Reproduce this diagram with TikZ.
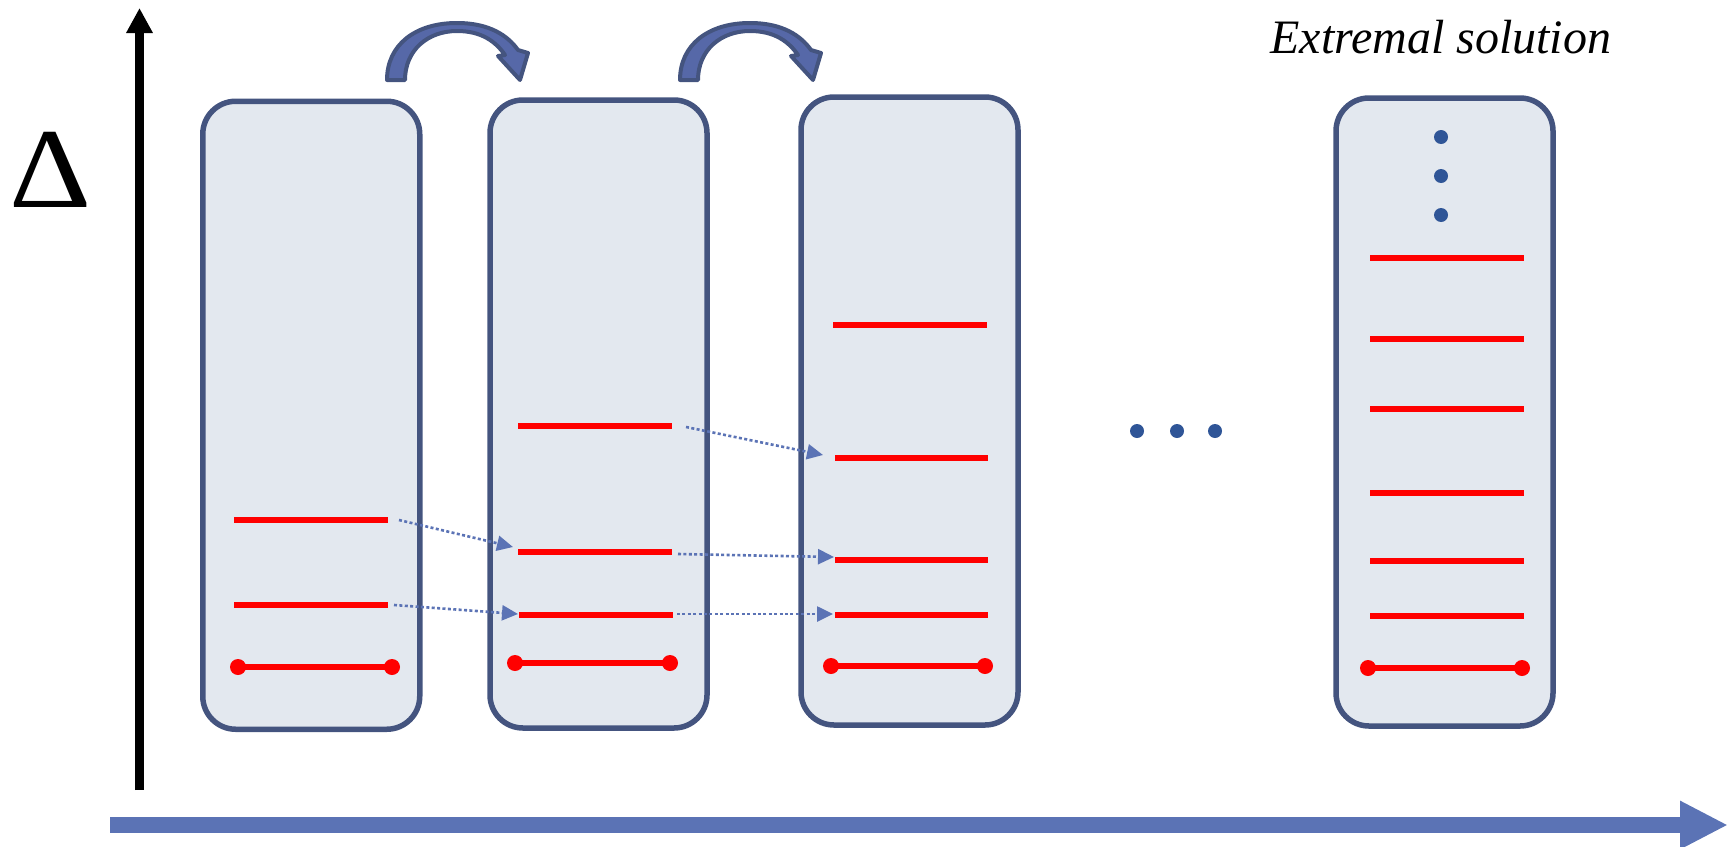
\documentclass[tikz,border=0pt]{standalone}
\usepackage{fontspec}
\setmainfont{Liberation Serif}
\usetikzlibrary{arrows.meta}

\definecolor{frame}{HTML}{44547F}
\definecolor{panel}{HTML}{E3E8EF}
\definecolor{hopblue}{HTML}{5668A8}
\definecolor{linkblue}{HTML}{5B73B5}
\definecolor{dotblue}{HTML}{2F5597}

\tikzset{
  stack/.style={draw=frame, line width=2.75pt, fill=panel, rounded corners=16.5pt,
    minimum width=108.5pt, minimum height=314pt, inner sep=0pt},
  level/.style={red, line width=2.8pt},
  ground/.style={red, line width=2.7pt},
  link/.style={linkblue, line width=1.3pt, dash pattern=on 1.5pt off 1.2pt,
    -{Triangle[length=8pt,width=7.5pt]}},
  hop/.style={draw=frame, fill=hopblue, line width=2pt, line join=round},
}

% a red level: name, left x, right x, y
\newcommand\level[4]{\draw[level] (#2,#4) coordinate (#1-l) -- (#3,#4) coordinate (#1-r);}
% the lowest level, with its two end dots
\newcommand\groundlevel[3]{%
  \draw[ground] (#1,#3) -- (#2,#3);
  \fill[red] (#1,#3) circle (4pt) (#2,#3) circle (4pt);}

\begin{document}
\begin{tikzpicture}[x=0.5pt, y=-0.5pt]
\useasboundingbox (0,0) rectangle (1733,846);

% axes
\coordinate (ybot) at (139.5,790);
\coordinate (ytop) at (139.5,8);
\coordinate (xleft) at (110,825);
\coordinate (xright) at (1728,825);
\draw[line width=4.5pt, -{Triangle[length=12.5pt,width=12.5pt]}] (ybot) -- (ytop);
\draw[linkblue, line width=8pt, -{Triangle[length=24pt,width=22.5pt]}] (xleft) -- (xright);
\node[anchor=base west, inner sep=0pt, font=\fontsize{57}{60}\selectfont] (delta) at (9,207) {\scalebox{1.12}[1]{Δ}};
\node[anchor=base west, inner sep=0pt, font=\fontsize{24}{28}\selectfont\itshape] (extremal) at (1270,53) {Extremal solution};

% the four stages
\node[stack] (s1) at (311.25,415.25) {};
\node[stack] (s2) at (598.5,414) {};
\node[stack] (s3) at (909.5,411) {};
\node[stack] (s4) at (1444.5,412) {};

% hops between stages
\foreach \dx in {0,293}
  \filldraw[hop, shift={(\dx,0)}] (387,80) .. controls (387,45) and (415,23) .. (457,23)
    .. controls (490,23) and (508,36) .. (518,50) -- (528,53) -- (520,80) -- (498,56)
    -- (505,55) .. controls (496,42) and (482,31) .. (457,31)
    .. controls (428,31) and (405,50) .. (405,80) -- cycle;

% levels
\level{a1}{234}{388}{605}
\level{a2}{234}{388}{520}
\groundlevel{238}{392}{667}

\level{b1}{519}{673}{615}
\level{b2}{518}{672}{552}
\level{b3}{518}{672}{426}
\groundlevel{515}{670}{663}

\level{c1}{835}{988}{615}
\level{c2}{835}{988}{560}
\level{c3}{835}{988}{458}
\level{c4}{833}{987}{325}
\groundlevel{831}{985}{666}

\foreach \y [count=\i] in {616,561,493,409,339,258}{
  \level{d\i}{1370}{1524}{\y}
}
\groundlevel{1368}{1522}{668}

% dots
\foreach \y in {137,176,215}
  \fill[dotblue] (1441,\y) circle (3.5pt);
\foreach \x in {1137,1177,1215}
  \fill[dotblue] (\x,431) circle (3.5pt);

% links from one stage to the next
\draw[link] ([shift={(11,0)}]a2-r) -- ([shift={(-5,-5)}]b2-l);
\draw[link] ([shift={(6,0)}]a1-r) -- ([shift={(-1,-1)}]b1-l);
\draw[link] ([shift={(14,1)}]b3-r) -- ([shift={(-12,-3)}]c3-l);
\draw[link] ([shift={(6,2)}]b2-r) -- ([shift={(-1,-3)}]c2-l);
\draw[link] ([shift={(4,-1)}]b1-r) -- ([shift={(-2,-1)}]c1-l);
\end{tikzpicture}
\end{document}
